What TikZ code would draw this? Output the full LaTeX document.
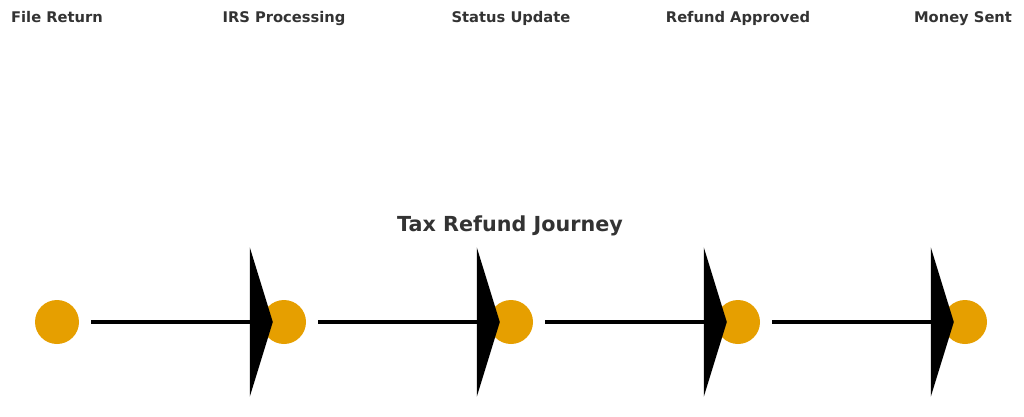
\documentclass[tikz,border=0pt]{standalone}
\usepackage{fontspec}
\setmainfont{DejaVu Sans}
\usetikzlibrary{arrows.meta}
\definecolor{stopfill}{HTML}{E69F00}
\definecolor{textgray}{HTML}{333333}
\begin{document}
\begin{tikzpicture}[x=1pt,y=-1pt]
    \tikzset{Stop/.style={%
            shape=circle,%
            fill=stopfill,%
            minimum size=44pt,%
            inner sep=0pt,%
            node distance=227pt,%
        },
        Label/.style={%
            font=\bfseries\fontsize{14.7}{17}\selectfont,%
            text=textgray,%
            text depth=0.2em,%
            node distance=304pt,%
        },
        Flow/.style={%
            line width=4pt,%
            -{Triangle[length=23pt,width=149pt]},%
            shorten <=12pt,%
            shorten >=-11pt,%
        }}
    \useasboundingbox (0,0) rectangle (1024,416);

    \node[Stop] (1) at (57,322) {};
    \node[Stop, right of=1] (2) {};
    \node[Stop, right of=2] (3) {};
    \node[Stop, right of=3] (4) {};
    \node[Stop, right of=4] (5) {};

    \node[Label, above of=1] (l1) {File Return};
    \node[Label, above of=2] (l2) {IRS Processing};
    \node[Label, above of=3] (l3) {Status Update};
    \node[Label, above of=4] (l4) {Refund Approved};
    \node[Label, above of=5, xshift=-2pt] (l5) {Money Sent};

    \node[font=\bfseries\fontsize{20.7}{24}\selectfont, text=textgray] (title) at (510,226) {Tax Refund Journey};

    \path (1) edge[Flow] (2);
    \path (2) edge[Flow] (3);
    \path (3) edge[Flow] (4);
    \path (4) edge[Flow] (5);
\end{tikzpicture}
\end{document}
